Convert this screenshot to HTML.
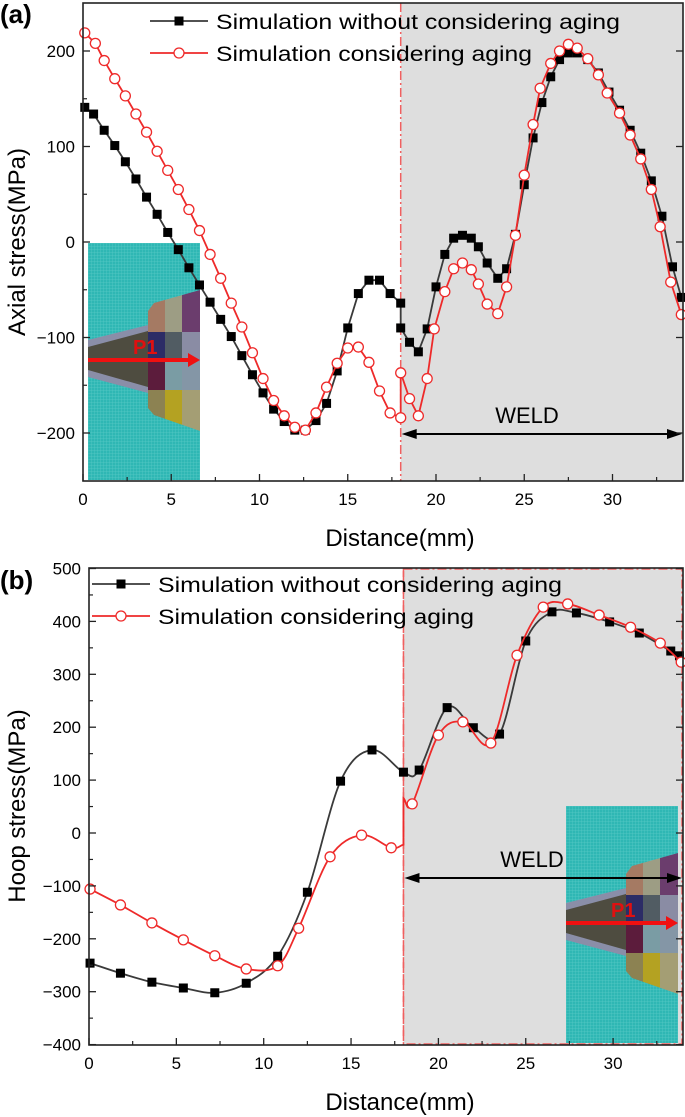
<!DOCTYPE html>
<html><head><meta charset="utf-8"><style>
html,body{margin:0;padding:0;background:#fff;}
svg{display:block;font-family:"Liberation Sans",sans-serif;}
</style></head><body>
<svg id="fig" width="685" height="1117" viewBox="0 0 685 1117" xmlns="http://www.w3.org/2000/svg">
<defs>
<pattern id="mesh" width="3" height="3" patternUnits="userSpaceOnUse">
<rect width="3" height="3" fill="#2fb7b4"/><path d="M0 0H3M0 0V3" stroke="#56c8c6" stroke-width="0.8"/>
</pattern>
</defs>
<g id="pa"></g>
<g id="pb"></g>
</svg>
<script>
// ---- Panel (a) data: axial stress ----
const axialPlainX = [0.1,0.6,1.2,1.8,2.4,3.0,3.6,4.2,4.8,5.4,6.0,6.6,7.2,7.8,8.4,9.0,9.6,10.2,10.8,11.4,12.0,12.6,13.2,13.8,14.4,15.0,15.6,16.2,16.8,17.4,18.0,18.0,18.5,19.0,19.5,20.0,20.5,21.0,21.5,22.0,22.4,22.9,23.5,24.0,24.5,25.0,25.5,26.0,26.5,27.0,27.5,28.0,28.6,29.2,29.8,30.4,31.0,31.6,32.2,32.8,33.4,33.9];
const axialPlainY = [141,134,117,101,84,66,47,29,10,-8,-27,-45,-63,-81,-99,-119,-139,-158,-175,-188,-197,-197,-187,-169,-135,-90,-54,-40,-40,-54,-64,-90,-105,-115,-91,-47,-13,4,7,4,-5,-22,-38,-28,8,60,109,146,173,191,198,198,191,177,157,138,117,93,64,27,-26,-58];
const axialAgedX = [0.1,0.7,1.2,1.8,2.4,3.0,3.6,4.2,4.8,5.4,6.0,6.6,7.2,7.8,8.4,9.0,9.6,10.2,10.8,11.4,12.0,12.6,13.2,13.8,14.4,15.0,15.6,16.2,16.8,17.4,18.0,18.0,18.5,19.0,19.5,19.9,20.5,21.0,21.5,22.0,22.4,22.9,23.5,24.0,24.5,25.0,25.5,25.9,26.5,27.0,27.5,28.0,28.6,29.2,29.7,30.4,31.0,31.6,32.2,32.7,33.3,33.9];
const axialAgedY = [219,208,190,171,153,134,115,95,75,55,34,12,-13,-38,-64,-89,-116,-143,-166,-182,-194,-197,-179,-152,-127,-111,-110,-126,-156,-179,-184,-137,-164,-182,-143,-91,-52,-28,-22,-29,-44,-65,-75,-47,7,70,123,161,187,200,207,203,192,175,156,135,112,87,55,16,-42,-76];
const axialYTicks = [200,100,0,-100,-200];
const axialXTicks = [0,5,10,15,20,25,30];
// ---- Panel (b) data: hoop stress ----
const hoopPlainX = [0.06,1.8,3.6,5.4,7.2,9.0,10.8,12.5,14.4,16.2,18.0,18.9,20.5,22.0,23.5,25.0,26.5,27.9,29.8,31.5,33.3,33.8];
const hoopPlainY = [-246,-265,-282,-293,-302,-284,-233,-112,98,157,115,119,237,199,187,363,418,416,399,378,344,335];
const hoopAgedX = [0.06,1.8,3.6,5.4,7.2,9.0,10.8,12.0,13.8,15.6,17.3,18.0,18.0,18.5,20.0,21.4,23.0,24.5,26.0,27.4,29.2,31.0,32.7,33.9];
const hoopAgedY = [-106,-136,-170,-202,-232,-257,-251,-180,-45,-4,-28,-22,66,55,185,210,170,336,427,433,412,389,359,323];
const hoopAgedMarker = [1,1,1,1,1,1,1,1,1,1,1,0,0,1,1,1,1,1,1,1,1,1,1,1];
const hoopYTicks = [500,400,300,200,100,0,-100,-200,-300,-400];
const hoopXTicks = [0,5,10,15,20,25,30];
const weldStart = 18, xMax = 34;

const NS="http://www.w3.org/2000/svg";
function mk(parent,tag,attrs,text){const e=document.createElementNS(NS,tag);for(const k in attrs)e.setAttribute(k,attrs[k]);if(text!==undefined)e.textContent=text;parent.appendChild(e);return e;}

function catmull(pts){
  let d="M"+pts[0][0]+" "+pts[0][1];
  for(let i=0;i<pts.length-1;i++){
    const p0=pts[Math.max(0,i-1)],p1=pts[i],p2=pts[i+1],p3=pts[Math.min(pts.length-1,i+2)];
    if(Math.abs(p2[0]-p1[0])<0.5){d+=" L"+p2[0]+" "+p2[1];continue;}
    const t=1/6;
    let c1=[p1[0]+(p2[0]-p0[0])*t,p1[1]+(p2[1]-p0[1])*t];
    let c2=[p2[0]-(p3[0]-p1[0])*t,p2[1]-(p3[1]-p1[1])*t];
    if(Math.abs(p1[0]-p0[0])<0.5)c1=[p1[0]+(p2[0]-p1[0])/3,p1[1]+(p2[1]-p1[1])/3];
    if(Math.abs(p3[0]-p2[0])<0.5)c2=[p2[0]-(p2[0]-p1[0])/3,p2[1]-(p2[1]-p1[1])/3];
    d+=" C"+c1[0]+" "+c1[1]+" "+c2[0]+" "+c2[1]+" "+p2[0]+" "+p2[1];
  }
  return d;
}

function inset(g,ox,oy){
  const s=mk(g,"g",{transform:"translate("+ox+","+oy+")"});
  
  
  mk(s,"rect",{x:0,y:0,width:112,height:237,fill:"url(#mesh)"});
  mk(s,"polygon",{points:"0,97 60,82 60,150 0,134",fill:"#8a8ea8"});
  mk(s,"polygon",{points:"0,104 60,88 60,144 0,127",fill:"#4e4c40"});
  const cols=[60,77,94,112], rows=[44,89,119,147,190];
  const colors=[["#a57a63","#9d9d84","#6b3d6d"],["#2c2c66","#515c63","#8a8ca4"],["#5c1c3c","#7a9ca4","#8496a6"],["#8c8252","#b4a222","#a49e74"]];
  for(let r=0;r<4;r++)for(let c=0;c<3;c++)mk(s,"rect",{x:cols[c],y:rows[r],width:cols[c+1]-cols[c],height:rows[r+1]-rows[r],fill:colors[r][c]});
  mk(s,"polygon",{points:"59,0 112,0 112,47 66,60 60,68 59,68",fill:"url(#mesh)"});
  mk(s,"polygon",{points:"59,165 60,165 66,172 112,188 112,237 59,237",fill:"url(#mesh)"});
  mk(s,"line",{x1:0,y1:117,x2:102,y2:117,stroke:"#f01010","stroke-width":4});
  mk(s,"polygon",{points:"100,110 112,117 100,124",fill:"#f01010"});
  const t=mk(s,"text",{x:45,y:111,fill:"#e01010","font-size":20,"font-weight":"bold"},"P1");
  
  
}

function panel(g,cfg){
  const X=v=>cfg.x0+v*cfg.sx, Y=v=>cfg.y0-v*cfg.sy;
  const L=cfg.left,R=cfg.right,T=cfg.top,B=cfg.bottom;
  const xw=X(weldStart);
  const shade=mk(g,"rect",{x:xw,y:T,width:R-xw,height:B-T,fill:"#dedede"});
  
  
  if(cfg.box){mk(g,"rect",{x:xw,y:T+1,width:R-xw-1,height:B-T-2,fill:"none",stroke:"#f06060","stroke-width":1.5,"stroke-dasharray":"9,3,2,3"});}
  const dl=mk(g,"line",{x1:xw,y1:T,x2:xw,y2:B,stroke:"#f06060","stroke-width":1.5,"stroke-dasharray":"9,3,2,3"});
  
  
  inset(g,cfg.insetX,cfg.insetY);
  const ay=cfg.arrowY;
  const ar=mk(g,"g",{});
  
  
  mk(ar,"line",{x1:xw+10,y1:ay,x2:R-10,y2:ay,stroke:"#000","stroke-width":2});
  mk(ar,"polygon",{points:(xw+1)+","+ay+" "+(xw+16)+","+(ay-5)+" "+(xw+16)+","+(ay+5),fill:"#000"});
  mk(ar,"polygon",{points:(R-1)+","+ay+" "+(R-16)+","+(ay-5)+" "+(R-16)+","+(ay+5),fill:"#000"});
  const wt=mk(g,"text",{x:cfg.weldTX,y:ay-11,"font-size":22,"text-anchor":"middle"},"WELD");
  
  
  const series=[{xs:cfg.pX,ys:cfg.pY,m:null,col:"#3a3a3a",mark:"sq",name:"series-without-aging"},{xs:cfg.aX,ys:cfg.aY,m:cfg.aM,col:"#ee2a2a",mark:"ci",name:"series-with-aging"}];
  series.forEach(s=>{
    const sg=mk(g,"g",{});
    
    
    const pts=s.xs.map((x,i)=>[X(x),Y(s.ys[i])]);
    const d=cfg.smooth?catmull(pts):"M"+pts.map(p=>p[0]+" "+p[1]).join(" L");
    mk(sg,"path",{d:d,fill:"none",stroke:s.col,"stroke-width":1.8});
    pts.forEach((p,i)=>{
      if(s.m&&!s.m[i])return;
      let e;
      if(s.mark==="sq")e=mk(sg,"rect",{x:p[0]-4.5,y:p[1]-4.5,width:9,height:9,fill:"#000"});
      else e=mk(sg,"circle",{cx:p[0],cy:p[1],r:5,fill:"#fff",stroke:"#ee2a2a","stroke-width":1.3});
      
      
    });
  });
  const fr=mk(g,"rect",{x:L,y:T,width:R-L,height:B-T,fill:"none",stroke:"#222","stroke-width":1.6});
  
  
  cfg.yT.forEach(v=>{
    const y=Y(v);
    mk(g,"line",{x1:L,y1:y,x2:L+7,y2:y,stroke:"#222","stroke-width":1.3});
    mk(g,"line",{x1:R,y1:y,x2:R-7,y2:y,stroke:"#222","stroke-width":1.3});
    const yh=Y(v-50);
    if(yh<B-1){mk(g,"line",{x1:L,y1:yh,x2:L+4,y2:yh,stroke:"#222","stroke-width":1.2});}
    const t=mk(g,"text",{x:L-8,y:y+6,"font-size":17,"text-anchor":"end"},v<0?"\u2212"+(-v):String(v));
    
    
  });
  cfg.xT.forEach(v=>{
    const x=X(v);
    mk(g,"line",{x1:x,y1:B,x2:x,y2:B-7,stroke:"#222","stroke-width":1.3});
    const xm=X(v+2.5);
    if(xm<R-2)mk(g,"line",{x1:xm,y1:B,x2:xm,y2:B-4,stroke:"#222","stroke-width":1.2});
    const t=mk(g,"text",{x:x,y:B+24,"font-size":17,"text-anchor":"middle"},String(v));
    
    
  });
  const xl=mk(g,"text",{x:cfg.xTitleX,y:B+65,"font-size":24,"text-anchor":"middle"},"Distance(mm)");
  
  
  const yl=mk(g,"text",{x:0,y:0,"font-size":24,"text-anchor":"middle",transform:"translate(25,"+cfg.yTitleY+") rotate(-90)"},cfg.yTitle);
  
  
  const pl=mk(g,"text",{x:0,y:cfg.tagY,"font-size":26,"font-weight":"bold"},cfg.tag);
  
  
  const lg=mk(g,"g",{});
  
  
  const lx=cfg.legX, ly=cfg.legY;
  const e1=mk(lg,"g",{});
  
  
  mk(e1,"line",{x1:lx,y1:ly,x2:lx+58,y2:ly,stroke:"#3a3a3a","stroke-width":1.8});
  mk(e1,"rect",{x:lx+24.5,y:ly-4.5,width:9,height:9,fill:"#000"});
  mk(e1,"text",{x:lx+66,y:ly+8,"font-size":21,textLength:404,lengthAdjust:"spacingAndGlyphs"},"Simulation without considering aging");
  const e2=mk(lg,"g",{});
  
  
  mk(e2,"line",{x1:lx,y1:ly+32,x2:lx+58,y2:ly+32,stroke:"#ee2a2a","stroke-width":1.8});
  mk(e2,"circle",{cx:lx+29,cy:ly+32,r:5,fill:"#fff",stroke:"#ee2a2a","stroke-width":1.3});
  mk(e2,"text",{x:lx+66,y:ly+40,"font-size":21,textLength:316,lengthAdjust:"spacingAndGlyphs"},"Simulation considering aging");
}

panel(document.getElementById("pa"),{x0:83,sx:17.65,y0:242,sy:0.955,left:83,right:683,top:3,bottom:481,
  pX:axialPlainX,pY:axialPlainY,aX:axialAgedX,aY:axialAgedY,aM:null,smooth:false,yT:axialYTicks,xT:axialXTicks,
  insetX:88,insetY:243,arrowY:434,weldTX:527,xTitleX:400,yTitle:"Axial stress(MPa)",yTitleY:242,tag:"(a)",tagY:23,legX:150,legY:21,box:false});
panel(document.getElementById("pb"),{x0:89,sx:17.47,y0:833,sy:0.529,left:89,right:683,top:568,bottom:1045,
  pX:hoopPlainX,pY:hoopPlainY,aX:hoopAgedX,aY:hoopAgedY,aM:hoopAgedMarker,smooth:true,yT:hoopYTicks,xT:hoopXTicks,
  insetX:566,insetY:806,arrowY:878,weldTX:532,xTitleX:400,yTitle:"Hoop stress(MPa)",yTitleY:806,tag:"(b)",tagY:589,legX:92,legY:584,box:true});
</script>
</body></html>
